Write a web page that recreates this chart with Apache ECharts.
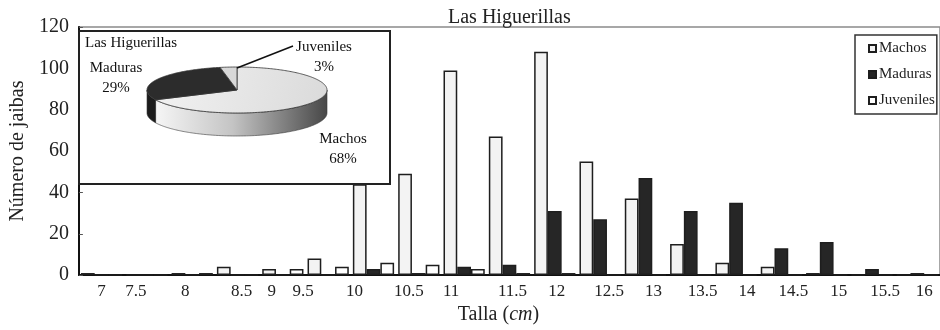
<!DOCTYPE html>
<html>
<head>
<meta charset="utf-8">
<script src="https://cdn.jsdelivr.net/npm/echarts@6/dist/echarts.min.js"></script>
<style>
  html, body { margin: 0; padding: 0; background: #ffffff; }
  #chart { width: 940px; height: 330px; }
</style>
</head>
<body>
<div id="chart"></div>
<script>
// Size classes (cm) and crab counts per group
const categories = ['7', '7.5', '8', '8.5', '9', '9.5', '10', '10.5', '11', '11.5', '12', '12.5', '13', '13.5', '14', '14.5', '15', '15.5', '16'];
const machos    = [1, 0, 1, 4, 3, 8, 44, 49, 99, 67, 108, 55, 37, 15, 6, 4, 1, 0, 0];
const maduras   = [0, 0, 0, 0, 0, 0, 3, 1, 4, 5, 31, 27, 47, 31, 35, 13, 16, 3, 1];
const juveniles = [0, 0, 1, 0, 3, 4, 6, 5, 3, 1, 1, 0, 0, 0, 0, 0, 0, 0, 0];
const seriesNames = ['Machos', 'Maduras', 'Juveniles'];

// Inset pie: share of each group (%)
const pieShares = [68, 29, 3];

// Y axis ticks
const yMin = 0, yMax = 120, yStep = 20;

// Layout helpers (pixels)
const labelShift = [0, -11, -7, 4, -11, -25, -19, -10, -13, 3, 2, 9, 8, 12, 11, 12, 12, 13, 7];
const pieGeom = { cx: 237, cy: 90, rx: 90, ry: 23, depth: 23 };
const pieLabelPos = [[343, 149], [116, 78], [324, 57]];

const FONT = "'Liberation Serif', 'DejaVu Serif', 'Times New Roman', serif";

const richLabels = {};
labelShift.forEach(function (d, i) {
  richLabels['s' + i] = {
    fontFamily: FONT, fontSize: 17, color: '#222',
    padding: d >= 0 ? [0, 0, 0, 2 * d] : [0, -2 * d, 0, 0]
  };
});

const pieFaces = [
  { top: new echarts.graphic.LinearGradient(0, 0, 1, 1, [{ offset: 0, color: '#f2f2f2' }, { offset: 1, color: '#dadada' }]),
    side: new echarts.graphic.LinearGradient(0, 0, 1, 0, [{ offset: 0, color: '#f6f6f6' }, { offset: 0.45, color: '#c4c4c4' }, { offset: 1, color: '#474747' }]) },
  { top: '#2c2c2c', side: '#1c1c1c' },
  { top: '#d8d8d8', side: '#9a9a9a' }
];

function renderPieSlice(params, api) {
  const i = params.dataIndex;
  const total = pieShares.reduce(function (a, b) { return a + b; }, 0);
  let before = 0;
  for (let j = 0; j < i; j++) before += pieShares[j];
  const v = api.value(0);
  const g = pieGeom;
  // clockwise from 12 o'clock
  const a0 = Math.PI / 2 - 2 * Math.PI * before / total;
  const a1 = a0 - 2 * Math.PI * v / total;
  const angles = [];
  const n = Math.max(4, Math.ceil((a0 - a1) / (Math.PI / 180)));
  for (let s = 0; s <= n; s++) angles.push(a0 + (a1 - a0) * s / n);
  for (let k = -4; k <= 4; k++) {
    const c = k * Math.PI;
    if (c < a0 && c > a1) angles.push(c);
  }
  angles.sort(function (a, b) { return b - a; });
  const pt = function (a) { return [g.cx + g.rx * Math.cos(a), g.cy - g.ry * Math.sin(a)]; };

  const children = [];
  // front wall (lower half of the rim)
  let run = [];
  const flush = function () {
    if (run.length >= 2) {
      const topPts = run.map(pt);
      const botPts = topPts.slice().reverse().map(function (p) { return [p[0], p[1] + g.depth]; });
      children.push({
        type: 'polygon',
        shape: { points: topPts.concat(botPts) },
        style: { fill: pieFaces[i].side, stroke: '#3a3a3a', lineWidth: 0.6 }
      });
    }
    run = [];
  };
  angles.forEach(function (a) {
    if (Math.sin(a) <= 1e-9) run.push(a); else flush();
  });
  flush();

  // top face
  const facePts = [[g.cx, g.cy]].concat(angles.map(pt));
  children.push({
    type: 'polygon',
    shape: { points: facePts },
    style: { fill: pieFaces[i].top, stroke: '#333', lineWidth: 0.8 }
  });

  // slice label
  children.push({
    type: 'text',
    x: pieLabelPos[i][0], y: pieLabelPos[i][1],
    style: {
      text: seriesNames[i] + '\n' + v + '%',
      fontFamily: FONT, fontSize: 15, lineHeight: 20, fill: '#111',
      align: 'center', verticalAlign: 'middle'
    }
  });
  return { type: 'group', children: children };
}

const chart = echarts.init(document.getElementById('chart'), null, { renderer: 'canvas' });

const barStyle = [
  { color: '#f3f3f3', borderColor: '#1e1e1e', borderWidth: 1.5 },
  { color: '#262626', borderColor: '#1e1e1e', borderWidth: 1.5 },
  { color: '#ffffff', borderColor: '#1e1e1e', borderWidth: 1.5 }
];
const barData = [machos, maduras, juveniles];

chart.setOption({
  animation: false,
  backgroundColor: '#ffffff',
  textStyle: { fontFamily: FONT },
  title: {
    text: 'Las Higuerillas',
    left: 443, top: 3,
    textStyle: { fontFamily: FONT, fontSize: 20, fontWeight: 'normal', color: '#222' }
  },
  legend: {
    orient: 'vertical',
    left: 855, top: 35,
    data: seriesNames,
    itemWidth: 7, itemHeight: 7, itemGap: 11,
    icon: 'rect',
    padding: [6, 2, 6, 13],
    borderColor: '#333', borderWidth: 1.5,
    textStyle: { fontFamily: FONT, fontSize: 15, color: '#222', padding: [0, 0, 0, -2] }
  },
  grid: {
    left: 72, right: -6, top: 27, bottom: 49,
    show: true, borderColor: '#8a8a8a', borderWidth: 1.5, backgroundColor: 'transparent'
  },
  xAxis: {
    type: 'category',
    data: categories,
    name: 'Talla ({i|cm})',
    nameLocation: 'middle',
    nameGap: 25,
    nameTextStyle: {
      fontFamily: FONT, fontSize: 20, color: '#222', padding: [0, 22, 0, 0],
      rich: { i: { fontFamily: FONT, fontSize: 20, fontStyle: 'italic', color: '#222' } }
    },
    axisLine: { lineStyle: { color: '#111', width: 2 } },
    axisTick: { inside: true, length: 4, lineStyle: { color: '#777' } },
    axisLabel: {
      interval: 0, margin: 8,
      fontFamily: FONT, fontSize: 17, color: '#222',
      formatter: function (value, index) { return '{s' + index + '|' + value + '}'; },
      rich: richLabels
    }
  },
  yAxis: {
    type: 'value',
    min: yMin, max: yMax, interval: yStep,
    name: 'Número de jaibas',
    nameLocation: 'middle',
    nameGap: 44,
    nameTextStyle: { fontFamily: FONT, fontSize: 20, color: '#222' },
    axisLine: { show: true, lineStyle: { color: '#111', width: 2 } },
    axisTick: { show: true, inside: true, length: 4, lineStyle: { color: '#555' } },
    axisLabel: { fontFamily: FONT, fontSize: 20, color: '#222', margin: 10 },
    splitLine: { show: false }
  },
  series: seriesNames.map(function (name, i) {
    return {
      name: name,
      type: 'bar',
      data: barData[i],
      barGap: '0%',
      barCategoryGap: '9%',
      itemStyle: barStyle[i],
      z: 2
    };
  }).concat([{
    type: 'custom',
    coordinateSystem: 'none',
    data: pieShares.map(function (v) { return [v]; }),
    renderItem: renderPieSlice,
    silent: true,
    z: 20
  }]),
  graphic: [
    {
      type: 'rect',
      shape: { x: 79, y: 31, width: 311, height: 153 },
      style: { fill: '#ffffff', stroke: '#222', lineWidth: 2 },
      z: 10
    },
    {
      type: 'text',
      x: 85, y: 43,
      style: { text: 'Las Higuerillas', fontFamily: FONT, fontSize: 15, fill: '#111', verticalAlign: 'middle' },
      z: 30
    },
    {
      type: 'polyline',
      shape: { points: [[293, 46], [237, 68]] },
      style: { stroke: '#111', lineWidth: 1.5 },
      z: 30
    }
  ]
});
</script>
</body>
</html>
